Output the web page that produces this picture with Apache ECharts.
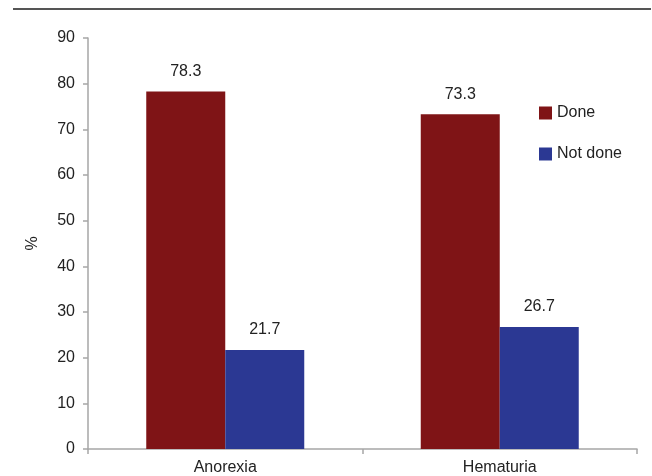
<!DOCTYPE html>
<html>
<head>
<meta charset="utf-8">
<script src="https://cdn.jsdelivr.net/npm/echarts@6/dist/echarts.min.js"></script>
<style>
  html, body { margin: 0; padding: 0; background: #fff; }
  #chart { width: 652px; height: 476px; }
</style>
</head>
<body>
<div id="chart"></div>
<script>
// Symptom categories and the share of cases (%) per group
const categories = ['Anorexia', 'Hematuria'];
const doneValues = [78.3, 73.3];
const notDoneValues = [21.7, 26.7];
const yTicks = [0, 10, 20, 30, 40, 50, 60, 70, 80, 90];

const FONT = 'Liberation Sans, Arial, sans-serif';
const FS = 16;
const TEXT = '#222';
const AXIS = '#a6a6a6';

const chart = echarts.init(document.getElementById('chart'), null, { renderer: 'canvas' });

function barSeries(name, values, color) {
  return {
    name: name,
    type: 'bar',
    data: values,
    barWidth: 79,
    barGap: '0%',
    itemStyle: { color: color },
    label: {
      show: true,
      position: 'top',
      distance: 12,
      color: TEXT,
      fontFamily: FONT,
      fontSize: FS,
      formatter: p => p.value.toFixed(1)
    }
  };
}

chart.setOption({
  animation: false,
  backgroundColor: '#fff',
  graphic: [{
    type: 'line',
    shape: { x1: 13, y1: 9, x2: 651, y2: 9 },
    style: { stroke: '#555', lineWidth: 2 }
  }],
  grid: { left: 88, right: 15, top: 38, bottom: 27, containLabel: false },
  legend: {
    orient: 'vertical',
    left: 534,
    top: 100,
    itemWidth: 13,
    itemHeight: 13,
    itemGap: 25,
    icon: 'rect',
    textStyle: { color: TEXT, fontFamily: FONT, fontSize: FS },
    data: ['Done', 'Not done']
  },
  xAxis: {
    type: 'category',
    data: categories,
    boundaryGap: true,
    axisLine: { lineStyle: { color: AXIS, width: 1.5 } },
    axisTick: { show: true, length: 5, lineStyle: { color: AXIS, width: 1.5 } },
    axisLabel: { color: TEXT, fontFamily: FONT, fontSize: FS, margin: 11 }
  },
  yAxis: {
    type: 'value',
    min: yTicks[0],
    max: yTicks[yTicks.length - 1],
    interval: yTicks[1] - yTicks[0],
    name: '%',
    nameLocation: 'middle',
    nameGap: 47,
    nameRotate: 90,
    nameTextStyle: { color: TEXT, fontFamily: FONT, fontSize: FS },
    axisLine: { show: true, lineStyle: { color: AXIS, width: 1.5 } },
    axisTick: { show: true, length: 5, lineStyle: { color: AXIS, width: 1.5 } },
    axisLabel: { color: TEXT, fontFamily: FONT, fontSize: FS, margin: 13 },
    splitLine: { show: false }
  },
  series: [
    barSeries('Done', doneValues, '#7f1416'),
    barSeries('Not done', notDoneValues, '#2b3893')
  ]
});
</script>
</body>
</html>
